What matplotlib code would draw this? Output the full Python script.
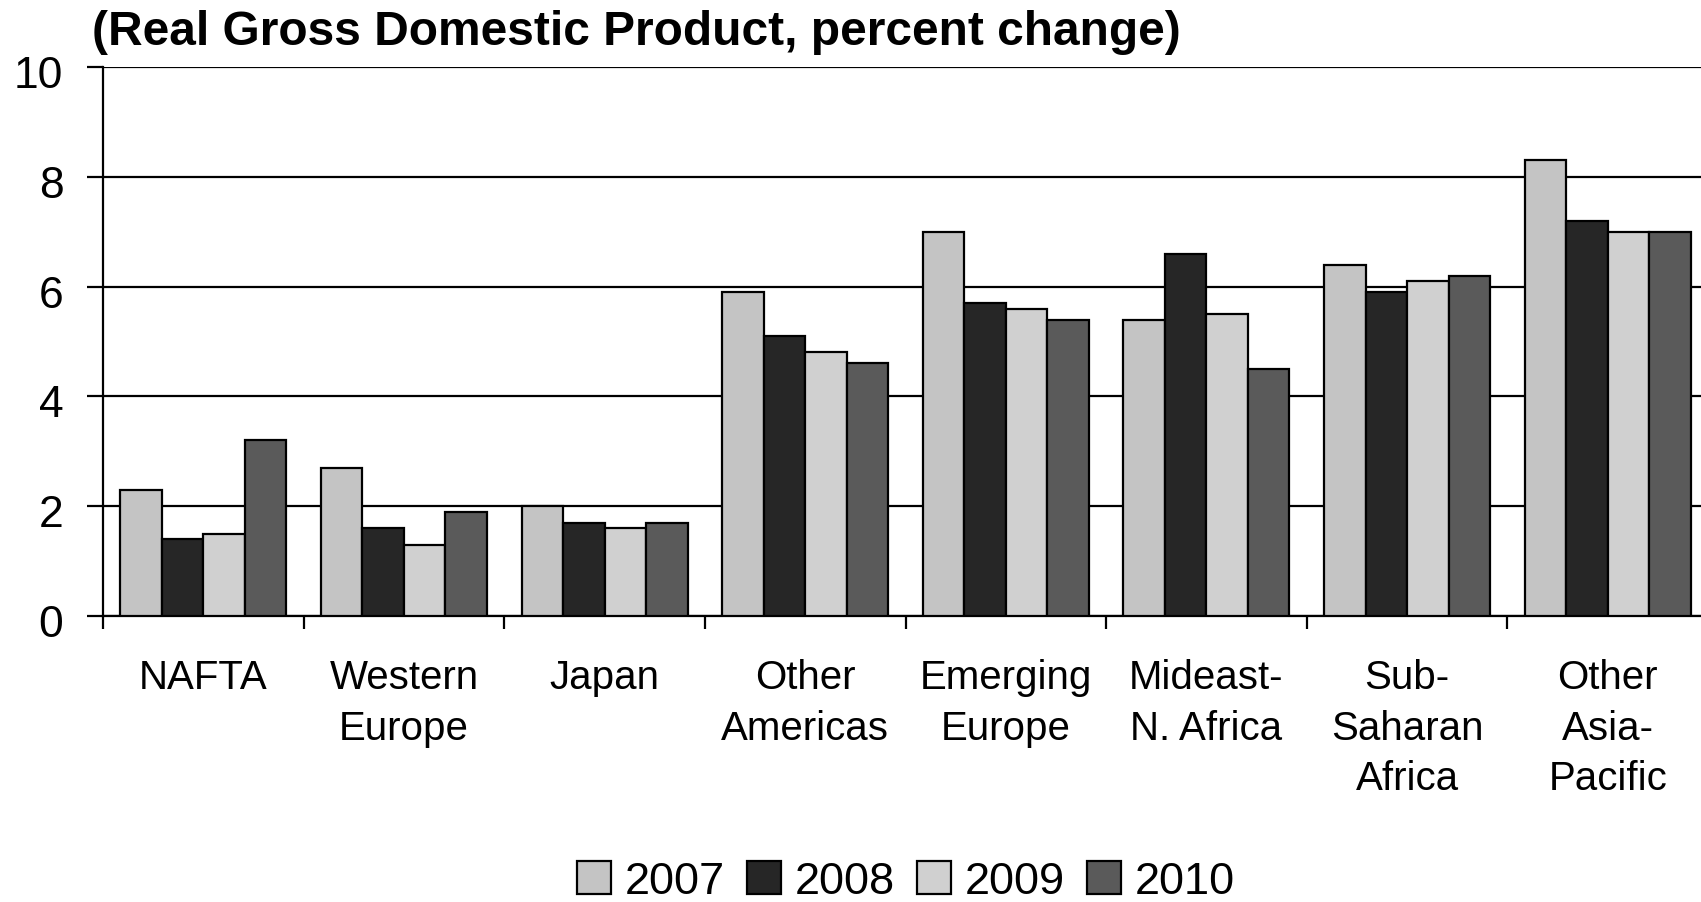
import matplotlib
matplotlib.use("Agg")
import matplotlib.pyplot as plt
import matplotlib.transforms as mtransforms
import numpy as np

plt.rcParams["font.family"] = ["Liberation Sans", "DejaVu Sans"]

regioes = ["NAFTA", "Western\nEurope", "Japan", "Other\nAmericas", "Emerging\nEurope",
           "Mideast-\nN. Africa", "Sub-\nSaharan\nAfrica", "Other\nAsia-\nPacific"]
anos = ["2007", "2008", "2009", "2010"]
v2007 = [2.3, 2.7, 2.0, 5.9, 7.0, 5.4, 6.4, 8.3]
v2008 = [1.4, 1.6, 1.7, 5.1, 5.7, 6.6, 5.9, 7.2]
v2009 = [1.5, 1.3, 1.6, 4.8, 5.6, 5.5, 6.1, 7.0]
v2010 = [3.2, 1.9, 1.7, 4.6, 5.4, 4.5, 6.2, 7.0]
cores = ["#c4c4c4", "#262626", "#d0d0d0", "#5a5a5a"]

fig = plt.figure(figsize=(17.01, 9.02), dpi=100)
ax = fig.add_axes([103 / 1701, (902 - 616) / 902, (1708 - 103) / 1701, (616 - 67) / 902])

x = np.arange(len(regioes))
largura = 0.207
for i, (serie, cor, ano) in enumerate(zip([v2007, v2008, v2009, v2010], cores, anos)):
    ax.bar(x + (i - 1.5) * largura, serie, largura, color=cor, edgecolor="black",
           linewidth=1.6, label=ano, zorder=3)

ax.set_xlim(-0.5, len(regioes) - 0.5)
ax.set_ylim(0, 10)
ax.set_yticks([0, 2, 4, 6, 8, 10])
ax.yaxis.grid(True, color="black", linewidth=1.6, zorder=0)
ax.set_axisbelow(True)

ax.set_xticks(x)
ax.set_xticklabels(regioes, fontsize=29, linespacing=1.42)
ax.tick_params(axis="x", which="major", length=0, pad=31)
ax.set_xticks(np.arange(-0.5, len(regioes)), minor=True)
ax.tick_params(axis="x", which="minor", length=9, width=1.6, direction="out")
ax.tick_params(axis="y", labelsize=32, length=11.5, width=1.6, pad=17)

# rotulos do eixo y um pouco abaixo da linha, como no original
desloca = mtransforms.ScaledTranslation(0, -5 / 100, fig.dpi_scale_trans)
for rotulo in ax.get_yticklabels():
    rotulo.set_transform(rotulo.get_transform() + desloca)

for lado in ["top", "right"]:
    ax.spines[lado].set_visible(False)
for lado in ["left", "bottom"]:
    ax.spines[lado].set_linewidth(1.6)

fig.text(92 / 1701, 1 - 45 / 902, "(Real Gross Domestic Product, percent change)",
         fontsize=34.5, fontweight="bold", ha="left", va="baseline")

fig.legend(loc="center", bbox_to_anchor=(906 / 1701, 1 - 882 / 902), ncol=4, frameon=False,
           fontsize=32.5, handlelength=0.75, handleheight=0.75, handletextpad=0.3,
           columnspacing=0.5)

fig.savefig("out.png", dpi=100)
plt.close(fig)
